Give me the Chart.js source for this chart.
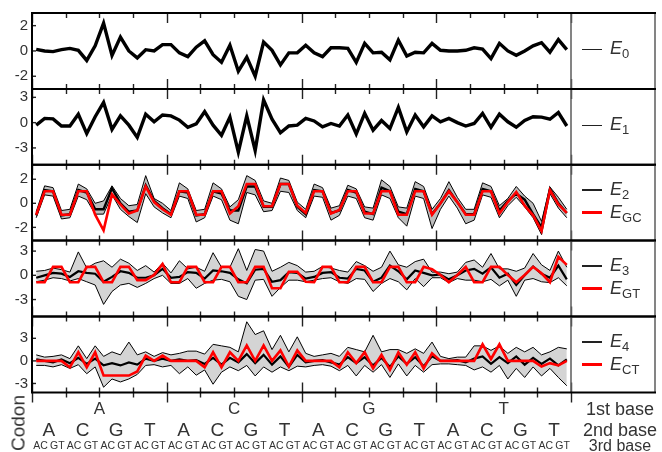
<!DOCTYPE html>
<html><head><meta charset="utf-8">
<script src="https://cdn.jsdelivr.net/npm/chart.js@4/dist/chart.umd.min.js"></script>
<style>
html,body{margin:0;padding:0;background:#fff;}
#wrap{position:relative;width:662px;height:452px;overflow:hidden;font-family:"Liberation Sans",Arial,sans-serif;color:#333;}
canvas{position:absolute;left:0;top:0;}
.leg{position:absolute;left:582px;height:20px;display:flex;align-items:center;white-space:nowrap;z-index:5;}
.sw{display:inline-block;width:20px;margin-right:8px;}
.lt{font-size:18px;line-height:20px;font-style:italic;}
.lt span{font-size:13px;font-style:normal;position:relative;top:4px;}
.rl{position:absolute;width:100px;left:570px;text-align:center;z-index:5;line-height:1;}
#codon{position:absolute;left:18px;top:423px;font-size:19px;line-height:1;transform:translate(-50%,-50%) rotate(-90deg);z-index:5;}
</style></head><body><div id="wrap"></div>
<script>
// ---- categories / tick labels ----
const firstBase  = ['A','C','G','T'];
const secondBase = ['A','C','G','T'];
const thirdBase  = ['A','C','G','T'];
const yTicks1 = [-2,0,2];
const yTicks2 = [-3,0,3];
const yTicks3 = [-2,0,2];
const yTicks4 = [-3,0,3];
const yTicks5 = [-3,0,3];
const legendSubs = [['0'],['1'],['2','GC'],['3','GT'],['4','CT']];

// ---- series values (64 codons, order AAA..TTT) ----
const E0 = [0.13,0,-0.05,0.1,0.2,0.05,-0.75,0.4, 2.2,-0.35,1.1,0,-0.55,0.1,0,0.5,
  0.5,-0.15,-0.45,0.3,0.8,-0.3,-0.9,0.45, -1.6,-0.5,-2.0,0.7,0.05,-1.1,-0.15,-0.15,
  0.45,-0.15,-0.45,0.25,0.25,0.2,-0.9,0.6, -0.15,-0.1,-0.7,0.85,-0.4,-0.1,-0.15,0.6,
  0.05,0,0,0.05,0.25,0.15,-0.6,0.6, 0,-0.35,0,0.4,0.65,-0.1,0.9,0.1];
const E1 = [-0.3,0.5,0.45,-0.4,-0.4,1.0,-1.3,0.7, 2.4,-0.8,0.8,-0.3,-1.75,1.0,0.1,0.9,
  0.8,0.3,-0.55,-0.15,1.3,-0.3,-1.5,0.65, -3.5,0.8,-3.3,2.7,0.4,-1.2,-0.4,-0.3,
  0.5,0.2,-0.5,-0.1,-0.4,0.9,-1.35,1.1, -0.9,0.25,-0.7,1.8,-1.1,0.9,-0.5,0.8,
  0.1,0.5,0,-0.4,-0.1,1.1,-0.55,1.0, 0.1,-0.55,0.25,0.7,0.65,0.4,1.2,-0.4];
const EGC = [-0.95,1.0,1.0,-0.95,-0.95,1.0,1.0,-0.95, -2.25,0.75,-0.1,-0.85,-0.6,1.4,0.1,-0.5,
  -0.95,1.0,1.0,-0.95,-0.95,1.0,1.0,-0.85, -0.25,1.6,1.6,-0.25,-0.25,1.6,1.6,-0.2,
  -0.8,1.0,1.0,-0.85,-0.55,1.0,1.0,-0.85, -0.85,1.0,1.0,-0.95,-0.95,1.0,1.0,-0.95,
  0.0,1.0,0.1,-0.95,-0.95,1.0,1.0,-0.85, 0.1,0.95,-0.2,-1.0,-2.3,1.1,-0.1,-0.8];
const E2mid = [-1.0,1.1,1.0,-1.0,-0.9,1.1,0.9,-0.5, -0.5,1.25,0.0,-0.7,-0.6,1.5,0.2,-0.4,
  -0.9,1.0,0.9,-1.0,-0.9,1.0,0.8,-0.6, -0.6,1.4,1.4,-0.3,-0.3,1.6,1.6,-0.3,
  -0.9,1.1,1.0,-0.8,-0.6,1.1,0.9,-0.7, -0.9,1.3,1.0,-0.7,-0.9,1.2,1.0,-0.9,
  0.0,1.1,0.1,-0.9,-0.9,1.2,1.0,-0.6, 0.2,0.8,0.3,-0.9,-2.0,1.2,0.0,-0.8];
const E2hi = [-0.7,1.45,1.3,-0.6,-0.5,1.6,1.2,0.0, 0.2,1.45,0.4,-0.2,-0.1,2.3,0.4,0.0,
  -0.6,1.7,1.2,-0.6,-0.5,1.7,1.2,-0.3, 0.3,2.3,1.9,0.2,0.0,2.1,1.9,0.1,
  -0.5,1.6,1.3,-0.4,-0.2,1.5,1.2,-0.3, -0.4,1.95,1.4,-0.3,-0.4,1.8,1.4,-0.5,
  0.4,1.8,0.5,-0.5,-0.5,1.7,1.4,-0.2, 0.4,1.4,0.6,0.0,-1.5,1.35,0.5,-0.5];
const E2lo = [-1.2,0.7,0.6,-1.3,-1.2,0.6,0.3,-0.9, -0.9,0.7,-0.5,-1.1,-1.6,0.8,-0.3,-0.8,
  -1.2,0.6,0.4,-1.55,-1.2,0.6,0.3,-1.4, -1.7,0.9,0.7,-0.7,-0.6,1.0,0.9,-0.6,
  -1.2,0.6,0.5,-1.4,-1.0,0.6,0.4,-1.2, -1.4,0.7,0.4,-1.2,-1.9,0.6,0.4,-2.1,
  -0.5,0.6,-0.4,-1.7,-1.4,0.7,0.5,-1.2, -0.2,0.5,-0.3,-1.2,-2.6,0.8,-0.4,-1.2];
const EGT = [-0.85,-0.85,1.05,1.05,-0.85,-0.85,1.05,1.05, -0.85,-0.85,1.05,1.05,-0.6,-0.6,0.05,1.4,
  -0.85,-0.85,1.05,1.05,-0.85,-0.85,1.05,1.05, -0.85,-0.85,1.05,1.05,-1.6,-1.6,0.45,0.45,
  -0.8,-0.85,1.05,1.05,-0.85,-0.85,1.05,1.05, -0.85,-0.85,1.05,1.05,-0.85,-0.85,1.05,0.75,
  0.05,-0.85,0.05,1.05,-0.85,-0.85,1.05,1.05, 0.05,-0.85,0.05,1.05,0.25,-0.85,2.3,1.3];
const E3mid = [-0.3,0.0,0.3,0.2,-0.2,0.5,0.3,0.2, -0.8,-0.2,0.5,0.3,-0.3,-0.3,0.0,0.8,
  -0.3,-0.2,0.4,0.3,-0.4,0.6,0.5,0.3, -0.5,-1.0,0.7,0.8,-0.8,-0.6,0.4,0.3,
  -0.4,-0.2,0.3,0.4,-0.3,-0.4,0.8,0.6, -0.8,-0.3,1.2,0.5,-0.5,0.6,0.3,0.0,
  0.1,-0.5,0.0,0.6,0.8,0.2,1.0,-0.3, 0.2,-1.2,0.0,1.1,0.2,-0.3,1.2,-0.5];
const E3hi = [0.5,0.6,0.9,0.7,0.4,2.9,0.9,1.5, 1.8,1.0,2.0,1.5,0.6,1.2,0.4,1.5,
  0.3,1.8,0.8,1.0,0.5,2.8,1.0,1.0, 3.3,0.6,3.2,3.0,0.5,1.0,1.6,1.2,
  0.4,0.5,1.1,0.9,0.6,0.4,1.7,1.2, 0.5,1.0,3.0,1.3,1.0,1.7,2.0,0.4,
  0.4,0.2,0.4,1.6,1.9,1.0,2.7,0.8, 0.8,0.5,0.9,2.7,1.3,0.6,3.0,1.0];
const E3lo = [-0.8,-0.6,-0.3,-0.4,-0.7,-0.4,-0.8,-1.2, -3.6,-2.0,-1.2,-1.0,-1.5,-1.0,-0.4,0.0,
  -1.0,-1.0,-0.4,-1.6,-1.0,-0.6,-0.5,-0.8, -2.6,-3.0,-0.6,-0.5,-2.6,-1.5,-0.6,-0.6,
  -0.8,-0.6,-0.4,-0.3,-0.8,-1.0,-0.4,-0.5, -2.0,-1.0,-0.4,-0.8,-1.8,-0.4,-1.4,-0.3,
  -0.3,-0.9,-0.4,-0.6,-0.6,-0.8,-0.5,-1.3, -0.6,-2.6,-0.6,-0.4,-0.8,-0.9,-0.3,-1.3];
const ECT = [0,0,0,0,-0.85,1.15,-0.85,1.15, -1.95,-1.95,-1.95,-1.95,-1.4,0.7,0,0.7,
  0,0,0,0,-0.85,1.15,-0.85,1.15, 0,2.05,0,2.05,0,1.4,-0.75,1.4,
  0,0,0,0,-0.85,1.15,-0.3,1.15, -1.0,0.8,-1.2,1.15,-0.5,1.15,-1.0,1.0,
  0,0,0,0,0,2.2,0.25,2.2, 0,0,0,0,-0.75,-0.3,-0.6,0];
const E4mid = [0.2,0.0,-0.2,0.2,-0.3,0.4,-0.4,0.3, -0.6,-0.3,-0.6,-0.2,-0.5,0.3,0.0,0.3,
  0.0,0.2,0.0,0.1,-0.4,0.4,-0.5,0.4, -0.2,0.9,-0.3,0.8,-0.5,0.6,-0.8,0.8,
  -0.2,0.0,0.1,-0.2,-0.5,0.5,-0.3,0.5, -0.6,0.4,-0.8,0.6,-0.4,0.5,-0.7,0.6,
  0.0,0.0,0.1,-0.2,0.3,0.6,-0.4,0.5, -0.3,0.6,-0.5,0.4,-0.4,0.3,-0.6,0.2];
const E4hi = [0.8,0.5,0.6,0.8,0.3,2.0,0.3,2.0, 0.6,1.2,0.8,2.5,0.8,1.2,0.6,1.1,
  0.8,1.0,1.3,1.3,0.9,2.2,2.0,1.8, 1.2,5.2,3.5,4.0,1.5,3.4,1.2,3.2,
  1.0,0.6,0.8,1.0,0.6,1.8,1.5,1.2, 3.4,1.2,1.5,1.5,1.0,1.6,1.0,2.5,
  0.6,0.3,0.5,0.5,2.0,2.0,1.4,2.0, 1.0,1.8,1.2,1.8,0.8,1.2,1.8,1.6];
const E4lo = [-0.6,-0.6,-0.8,-0.5,-1.0,-0.5,-1.7,-0.8, -3.5,-2.4,-2.8,-2.4,-1.8,-0.6,-0.5,-0.8,
  -0.6,-1.7,-0.8,-1.9,-1.2,-3.1,-1.5,-0.8, -1.3,-0.6,-2.0,-0.8,-1.5,-0.8,-1.3,-0.7,
  -0.8,-0.6,-0.5,-0.7,-1.3,-0.6,-2.0,-0.6, -1.5,-0.5,-2.2,-0.4,-2.0,-0.6,-1.5,-0.5,
  -0.4,-0.4,-0.5,-0.6,-1.2,-0.8,-1.5,-0.6, -2.4,-1.0,-2.2,-0.8,-2.0,-1.0,-2.2,-3.3];

// ---- layout ----
const W = 662, H = 452, PL = 32, PR = 571, BOXR = 655;
const FONT = '"Liberation Sans", Arial, sans-serif';
const panels = [
  {top:13,   bottom:88.9,  min:-3,   max:3,   ticks:yTicks1, black:[E0], bw:[3.4], red:null},
  {top:88.9, bottom:164.8, min:-5,   max:4,   ticks:yTicks2, black:[E1], bw:[3.4], red:null},
  {top:164.8,bottom:240.6, min:-3.1, max:3.2, ticks:yTicks3, black:[E2mid,E2hi,E2lo], bw:[2.4,1,1], red:EGC, band:'rgba(0,0,0,0.26)'},
  {top:240.6,bottom:316.5, min:-5.1, max:4.3, ticks:yTicks4, black:[E3mid,E3hi,E3lo], bw:[2.2,1,1], red:EGT, band:'rgba(0,0,0,0.17)'},
  {top:316.5,bottom:392.5, min:-4.2, max:5.9, ticks:yTicks5, black:[E4mid,E4hi,E4lo], bw:[2.2,1,1], red:ECT, band:'rgba(0,0,0,0.17)'}
];
const toXY = arr => arr.map((v,i)=>({x:i, y:v}));

const framePlugin = {
  id:'frame',
  afterDraw(chart, args, opts){
    const {ctx, chartArea:a, scales} = chart;
    const x = scales.x, y = scales.y;
    ctx.save();
    ctx.strokeStyle = '#222'; ctx.lineWidth = 1.4;
    for (let k=0;k<=16;k++){
      const px = Math.round(x.getPixelForValue(-0.5+4*k))+0.5;
      const len = (k%4===0)?10:5;
      ctx.beginPath();
      ctx.moveTo(px,a.top); ctx.lineTo(px,a.top+len);
      ctx.moveTo(px,a.bottom-len); ctx.lineTo(px,opts.last ? a.bottom+len : a.bottom);
      ctx.stroke();
    }
    for (const v of opts.yt){
      const py = y.getPixelForValue(v);
      ctx.beginPath(); ctx.moveTo(a.left,py); ctx.lineTo(a.left+4,py); ctx.stroke();
    }
    ctx.strokeStyle = '#666'; ctx.lineWidth = 1.6;
    ctx.beginPath();
    ctx.moveTo(a.right,a.top); ctx.lineTo(a.right,a.bottom);
    ctx.moveTo(BOXR,a.top); ctx.lineTo(BOXR,a.bottom);
    ctx.stroke();
    ctx.strokeStyle = '#000'; ctx.lineWidth = 2;
    ctx.beginPath();
    ctx.moveTo(a.left,a.top); ctx.lineTo(BOXR+1,a.top);
    ctx.moveTo(a.left,a.bottom); ctx.lineTo(BOXR+1,a.bottom);
    ctx.moveTo(a.left,a.top-1); ctx.lineTo(a.left,a.bottom+1);
    ctx.stroke();
    ctx.restore();
  }
};

const wrap = document.getElementById('wrap');
panels.forEach((p, idx) => {
  const last = idx === panels.length-1;
  const cv = document.createElement('canvas');
  cv.width = W; cv.height = H; cv.style.width = W+'px'; cv.style.height = H+'px';
  wrap.appendChild(cv);
  const ds = [];
  if (p.red) ds.push({data:toXY(p.red), borderColor:'#ff0000', borderWidth:2.6});
  p.black.forEach((arr,k)=>{
    const d = {data:toXY(arr), borderColor:'#000', borderWidth:p.bw[k]};
    if (p.band && k===1){ d.fill = '+1'; d.backgroundColor = p.band; }
    ds.push(d);
  });
  const tickFont = {family:FONT, size:15};
  const scales = {
    x: {type:'linear', min:-0.5, max:63.5, display:last, position:'bottom', weight:1,
        grid:{display:false, drawTicks:false}, border:{display:false},
        afterBuildTicks: s => { s.ticks = firstBase.map((b,k)=>({value:16*k+7.5})); },
        afterFit: s => { s.height = last ? 27 : 0; },
        ticks:{autoSkip:false, maxRotation:0, minRotation:0, padding:7, color:'#333',
               font:{family:FONT, size:17}, callback:(v,i)=>firstBase[i]}},
    y: {type:'linear', min:p.min, max:p.max, position:'left',
        grid:{display:false, drawTicks:false}, border:{display:false},
        afterBuildTicks: s => { s.ticks = p.ticks.map(v=>({value:v})); },
        afterFit: s => { s.width = PL; },
        ticks:{padding:4, color:'#333', font:tickFont, callback:v=>String(v)}}
  };
  if (last){
    scales.x2 = {type:'linear', min:-0.5, max:63.5, position:'bottom', weight:2,
        grid:{display:false, drawTicks:false}, border:{display:false},
        afterBuildTicks: s => { const t=[]; for(let k=0;k<16;k++) t.push({value:4*k+1.5}); s.ticks=t; },
        afterFit: s => { s.height = 19; },
        ticks:{autoSkip:false, maxRotation:0, minRotation:0, padding:0, color:'#333',
               font:{family:FONT, size:19}, callback:(v,i)=>secondBase[i%4]}};
    // third base labelled in pairs ("AC", "GT") centred between codons, as in the source figure
    scales.x3 = {type:'linear', min:-0.5, max:63.5, position:'bottom', weight:3,
        grid:{display:false, drawTicks:false}, border:{display:false},
        afterBuildTicks: s => { const t=[]; for(let k=0;k<32;k++) t.push({value:2*k+0.5}); s.ticks=t; },
        afterFit: s => { s.height = 13.5; },
        ticks:{autoSkip:false, maxRotation:0, minRotation:0, padding:1, color:'#333',
               font:{family:FONT, size:10.5},
               callback:(v,i)=> (i%2===0) ? thirdBase[0]+thirdBase[1] : thirdBase[2]+thirdBase[3]}};
  }
  const padBottom = last ? 0 : H - p.bottom;
  new Chart(cv, {
    type:'line',
    data:{datasets:ds},
    options:{
      responsive:false, animation:false, events:[], devicePixelRatio:1,
      layout:{padding:{left:0, right:W-PR, top:p.top, bottom:padBottom}},
      elements:{line:{tension:0, fill:false, borderJoinStyle:'miter'}, point:{radius:0}},
      plugins:{legend:{display:false}, tooltip:{enabled:false}, frame:{last:last, yt:p.ticks},
               filler:{propagate:false}},
      scales
    },
    plugins:[framePlugin]
  });

  const c = (p.top+p.bottom)/2;
  const subs = legendSubs[idx];
  const ys = subs.length===1 ? [c-1.5] : [c-12.5, c+10];
  subs.forEach((s,k)=>{
    const red = k===1;
    const d = document.createElement('div');
    d.className='leg'; d.style.top=(ys[k]-10)+'px';
    d.innerHTML = '<div class="sw" style="height:'+(red?3:1.5)+'px;background:'+(red?'#ff0000':'#222')+'"></div>'+
                  '<div class="lt">E<span>'+s+'</span></div>';
    wrap.appendChild(d);
  });
});

[['1st base',410,18],['2nd base',431,18],['3rd base',447,16]].forEach(([t,yc,fs])=>{
  const d=document.createElement('div'); d.className='rl'; d.textContent=t;
  d.style.fontSize=fs+'px'; d.style.top=(yc-fs/2-1)+'px'; wrap.appendChild(d);
});
const cd=document.createElement('div'); cd.id='codon'; cd.textContent='Codon'; wrap.appendChild(cd);
</script></body></html>
